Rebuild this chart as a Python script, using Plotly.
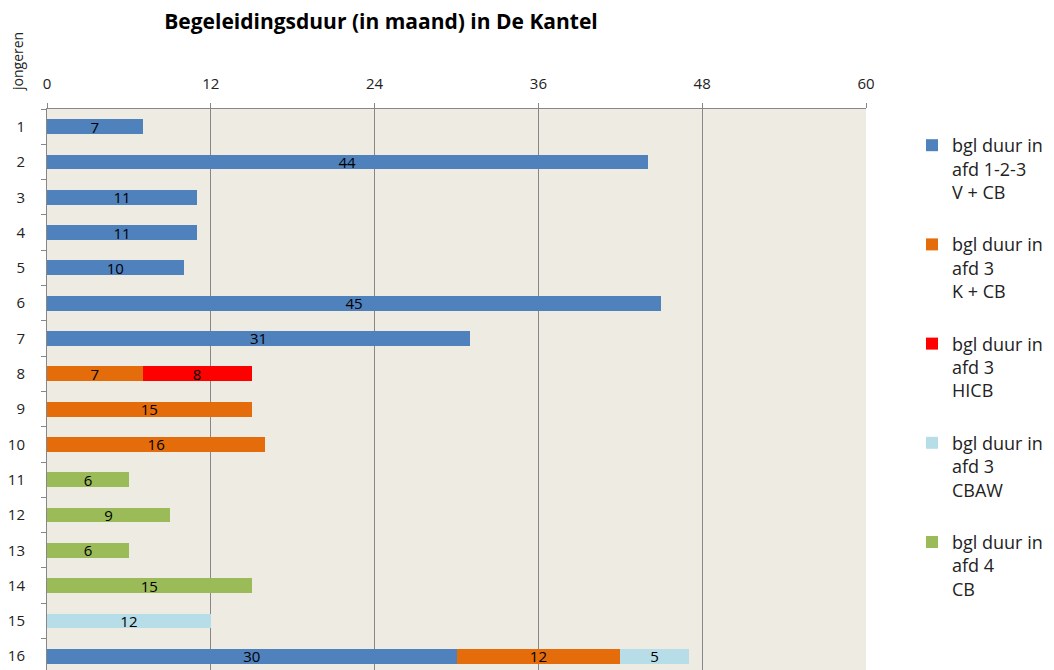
import plotly.graph_objects as go

categories = [str(i) for i in range(1, 17)]

series_names = [
    "bgl duur in<br>afd 1-2-3<br>V + CB",
    "bgl duur in<br>afd 3<br>K + CB",
    "bgl duur in<br>afd 3<br>HICB",
    "bgl duur in<br>afd 3<br>CBAW",
    "bgl duur in<br>afd 4<br>CB",
]
colors = ["#4F81BD", "#E46C0A", "#FF0000", "#B7DEE8", "#9BBB59"]

afd123_v_cb = [7, 44, 11, 11, 10, 45, 31, None, None, None, None, None, None, None, None, 30]
afd3_k_cb   = [None, None, None, None, None, None, None, 7, 15, 16, None, None, None, None, None, 12]
afd3_hicb   = [None, None, None, None, None, None, None, 8, None, None, None, None, None, None, None, None]
afd3_cbaw   = [None, None, None, None, None, None, None, None, None, None, None, None, None, None, 12, 5]
afd4_cb     = [None, None, None, None, None, None, None, None, None, None, 6, 9, 6, 15, None, None]

series_values = [afd123_v_cb, afd3_k_cb, afd3_hicb, afd3_cbaw, afd4_cb]

x_ticks = [0, 12, 24, 36, 48, 60]

FONT = "'Open Sans', sans-serif"
W, H = 1054, 670
ML, MR, MT, MB = 47, 188, 109, 0
PW, PH = W - ML - MR, H - MT - MB

fig = go.Figure()
for i, (name, vals, col) in enumerate(zip(series_names, series_values, colors)):
    fig.add_trace(go.Bar(
        y=categories, x=vals, name=name, orientation="h",
        marker=dict(color=col, line=dict(width=0)),
        width=0.42,
        text=[("" if v is None else str(v)) for v in vals],
        textposition="inside", insidetextanchor="middle", textangle=0,
        textfont=dict(color="black", size=15, family=FONT),
        legendgroup=f"g{i}",
    ))

fig.update_layout(
    width=W, height=H,
    barmode="stack",
    paper_bgcolor="white",
    plot_bgcolor="#EEEBE2",
    margin=dict(l=ML, r=MR, t=MT, b=MB, autoexpand=False),
    font=dict(family=FONT, size=15, color="#222"),
    title=dict(text="<b>Begeleidingsduur (in maand) in De Kantel</b>",
               x=381/W, xanchor="center", xref="container",
               y=1-22/H, yanchor="middle", yref="container",
               font=dict(size=21, color="black", family=FONT)),
    uniformtext=dict(minsize=15, mode="show"),
    legend=dict(x=(912 - ML) / PW, xanchor="left", y=1 - (127 - MT) / PH, yanchor="top",
                font=dict(size=18, color="#222", family=FONT),
                tracegroupgap=26, valign="top", itemwidth=30,
                bgcolor="rgba(0,0,0,0)"),
    showlegend=True,
)

fig.update_xaxes(
    side="top", range=[0, 60], tickvals=x_ticks, automargin=False,
    showgrid=True, gridcolor="#878787", gridwidth=1,
    showline=True, linecolor="#878787", linewidth=1,
    ticks="outside", ticklen=5, tickcolor="#878787",
    ticklabelstandoff=8, zeroline=False,
    tickfont=dict(size=15, color="#222"),
)
fig.update_yaxes(
    type="category", categoryorder="array", categoryarray=categories,
    range=[15.39, -0.5], automargin=False,
    showgrid=False, showline=True, linecolor="#878787", linewidth=1,
    ticks="outside", ticklen=5, tickcolor="#878787", tickson="boundaries",
    ticklabelstandoff=18,
    tickfont=dict(size=15, color="#222"),
)

fig.add_annotation(text="jongeren", textangle=-90,
                   x=(17 - ML) / PW, y=1 + (MT - 62) / PH,
                   xref="paper", yref="paper", showarrow=False,
                   xanchor="center", yanchor="middle",
                   font=dict(size=14, color="#222", family=FONT))

fig.write_html("out.html", config={"displayModeBar": False},
               post_script="document.body.style.margin='0';")
